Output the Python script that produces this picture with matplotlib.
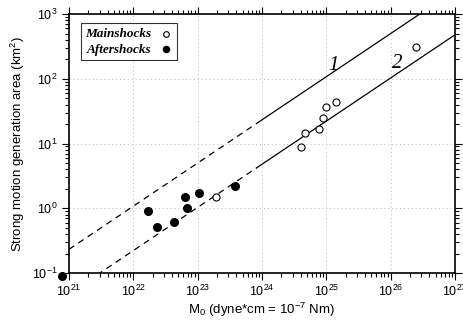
import numpy as np
import matplotlib.pyplot as plt
from matplotlib.ticker import LogLocator, NullFormatter

# mainshocks (open circles)
main_m0 = [2.5e26, 1.4e25, 9.8e24, 9.0e24, 7.6e24, 4.7e24, 4.0e24, 1.9e23]
main_area = [310, 44, 36.5, 24.7, 16.6, 14.7, 8.9, 1.47]

# aftershocks (filled circles)
after_m0 = [1.7e22, 2.34e22, 4.3e22, 6.3e22, 6.8e22, 1.04e23, 3.8e23, 7.7e20]
after_area = [0.92, 0.51, 0.61, 1.51, 1.02, 1.7, 2.2, 0.091]

# scaling lines: log A = 2/3 * log M0 + c
line_slope = 2.0 / 3.0
line1_c = -0.634 - 14.0
line2_c = -1.0 - line_slope * 21.48
split_m0 = 8.3e23

plt.rcParams['font.family'] = 'Liberation Sans'
plt.rcParams['mathtext.fontset'] = 'custom'
plt.rcParams['mathtext.rm'] = 'Liberation Sans'

fig = plt.figure(figsize=(4.64, 3.2), dpi=100)
ax = fig.add_axes([0.1487, 0.1469, 0.8319, 0.8091])

def draw_line(c):
    xd = np.logspace(21, np.log10(split_m0), 50)
    xs = np.logspace(np.log10(split_m0), 27, 50)
    ax.plot(xd, 10 ** (line_slope * np.log10(xd) + c), color='black', lw=0.9, ls=(0, (5, 4)))
    ax.plot(xs, 10 ** (line_slope * np.log10(xs) + c), color='black', lw=0.9)

draw_line(line1_c)
draw_line(line2_c)

ax.text(1.3e25, 163, '1', fontsize=15, style='italic', family='Liberation Serif', ha='center', va='center')
ax.text(1.26e26, 172, '2', fontsize=15, style='italic', family='Liberation Serif', ha='center', va='center')

ax.scatter(main_m0, main_area, s=26, facecolors='white', edgecolors='black', linewidths=0.8,
           zorder=3, label='Mainshocks', clip_on=False)
ax.scatter(after_m0, after_area, s=30, color='black', zorder=3, label='Aftershocks', clip_on=False)

ax.set_xscale('log')
ax.set_yscale('log')
ax.set_xlim(1e21, 1e27)
ax.set_ylim(1e-1, 1e3)

ax.grid(True, which='major', color='#bbbbbb', ls=(0, (1, 3)), lw=0.7)
ax.xaxis.set_minor_locator(LogLocator(base=10, subs=np.arange(2, 10), numticks=20))
ax.yaxis.set_minor_locator(LogLocator(base=10, subs=np.arange(2, 10), numticks=20))
ax.xaxis.set_minor_formatter(NullFormatter())
ax.yaxis.set_minor_formatter(NullFormatter())
ax.tick_params(which='both', direction='out', top=True, right=True, labelsize=9, width=0.8)
ax.tick_params(which='major', length=5, pad=3)
ax.tick_params(which='minor', length=3)
for sp in ax.spines.values():
    sp.set_linewidth(1.2)

ax.set_xlabel('M$_0$ (dyne*cm = 10$^{-7}$ Nm)', fontsize=9.5, labelpad=1)
ax.set_ylabel('Strong motion generation area (km$^2$)', fontsize=9.5, labelpad=4)

leg = ax.legend(loc='upper left', markerfirst=False, frameon=True, fancybox=False,
                edgecolor='black', handletextpad=0.6, borderpad=0.35, labelspacing=0.25,
                handlelength=1.0, borderaxespad=0, markerscale=0.8, bbox_to_anchor=(0.030, 0.964),
                prop={'family': 'Liberation Serif', 'style': 'italic', 'weight': 'bold', 'size': 9.5})
leg.get_frame().set_linewidth(0.8)

fig.savefig('out.png', dpi=100)
